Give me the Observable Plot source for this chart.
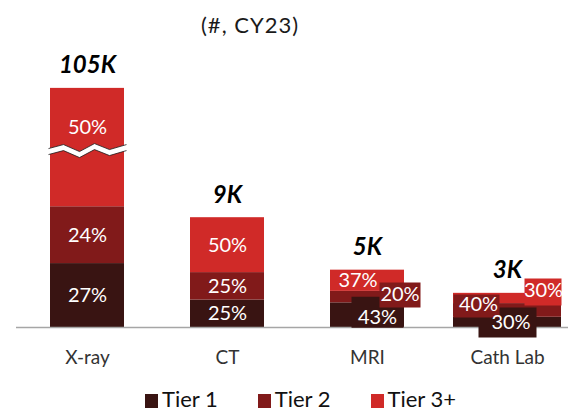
<!DOCTYPE html>
<html>
<head>
<meta charset="utf-8">
<script src="https://cdn.jsdelivr.net/npm/d3@7"></script>
<script src="https://cdn.jsdelivr.net/npm/@observablehq/plot@0.6"></script>
<style>
  html, body { margin: 0; padding: 0; background: #fff; overflow: hidden; }
  body { width: 568px; height: 412px; position: relative; font-family: Lato, "Open Sans", sans-serif; }
  #title { position: absolute; left: 201px; top: 0; padding-top: 8px; line-height: 34px; font-size: 22px; letter-spacing: 1px; color: #1a1a1a; white-space: nowrap; }
  #chart { position: absolute; left: 0; top: 42px; }
  #legend { position: absolute; left: 145px; top: 388px; display: flex; align-items: center; font-size: 22px; line-height: 22px; height: 22px; color: #111; white-space: nowrap; }
  #legend .item { display: flex; align-items: center; margin-right: 40px; }
  #legend .sw { width: 13px; height: 14px; margin-right: 4px; position: relative; top: 2px; }
</style>
</head>
<body>
<div id="title">(#, CY23)</div>
<div id="chart"></div>
<div id="legend"></div>
<script>
// ---- data ----
const categories = ["X-ray", "CT", "MRI", "Cath Lab"];
const tiers = ["Tier 1", "Tier 2", "Tier 3+"];
const totalsK = [105, 9.0, 4.7, 2.8];       // thousands of units
const tier1Pct = [27, 25, 43, 30];
const tier2Pct = [24, 25, 20, 40];
const tier3Pct = [50, 50, 37, 30];
const brokenBarShownAsK = 19.6;              // X-ray bar is cut (axis break)
const tierColors = ["#391412", "#811a1a", "#d02a28"];

// ---- derived tables ----
const segs = [];
categories.forEach((c, i) => {
  const shown = Math.min(totalsK[i], brokenBarShownAsK);
  const pcts = [tier1Pct[i], tier2Pct[i], tier3Pct[i]];
  const sum = d3.sum(pcts);
  let acc = 0;
  pcts.forEach((p, j) => {
    const v = shown * p / sum;
    segs.push({category: c, tier: tiers[j], tierIndex: j, pct: p, y1: acc, y2: acc + v, mid: acc + v / 2});
    acc += v;
  });
});
const totalsData = categories.map((c, i) => ({
  category: c,
  shown: Math.min(totalsK[i], brokenBarShownAsK),
  label: Math.round(totalsK[i]) + "K"
}));
const breakDatum = segs.find(d => d.category === "X-ray" && d.tier === "Tier 3+");

// ---- label layout (pixel nudges, boxes behind crowded labels) ----
const labelLayout = {
  "X-ray|Tier 3+":    {dx: 0, dy: -20},
  "MRI|Tier 3+":      {dx: -9.5, dy: 0},
  "MRI|Tier 2":       {dx: 32.5, dy: -2.5, box: {w: 41, h: 25, dx: 32.5, dy: -2}},
  "MRI|Tier 1":       {dx: 10, dy: 2, box: {w: 52, h: 31, dx: 10, dy: -3}},
  "Cath Lab|Tier 3+": {dx: 36, dy: -8, box: {w: 37, h: 27, dx: 35.5, dy: -6.5}},
  "Cath Lab|Tier 2":  {dx: -29, dy: -6, box: {w: 46, h: 23, dx: -31, dy: -4.5}},
  "Cath Lab|Tier 1":  {dx: 3.5, dy: 0, box: {w: 58, h: 30, dx: 0, dy: 0}}
};
const rectSymbol = (w, h) => ({draw(ctx) { ctx.rect(-w / 2, -h / 2, w, h); }});

// zigzag break symbol
const zx = [-39, -24, -8, 7, 22, 39];
const zy = [1, -3, 4, -4, 2, -3];
const band = 6;
const zigFill = {draw(ctx) {
  ctx.moveTo(zx[0], zy[0]);
  for (let k = 1; k < zx.length; k++) ctx.lineTo(zx[k], zy[k]);
  for (let k = zx.length - 1; k >= 0; k--) ctx.lineTo(zx[k], zy[k] + band);
  ctx.closePath();
}};
const zigEdges = {draw(ctx) {
  ctx.moveTo(zx[0], zy[0]);
  for (let k = 1; k < zx.length; k++) ctx.lineTo(zx[k], zy[k]);
  ctx.moveTo(zx[0], zy[0] + band);
  for (let k = 1; k < zx.length; k++) ctx.lineTo(zx[k], zy[k] + band);
}};

const boxMarks = [];
const labelMarks = [];
segs.forEach(s => {
  const L = labelLayout[s.category + "|" + s.tier] || {dx: 0, dy: 0};
  if (L.box) {
    boxMarks.push(Plot.dot([s], {
      x: "category", y: "mid", dx: L.box.dx, dy: L.box.dy,
      symbol: rectSymbol(L.box.w, L.box.h), r: 1,
      fill: tierColors[s.tierIndex], stroke: "none"
    }));
  }
  labelMarks.push(Plot.text([s], {
    x: "category", y: "mid", dx: L.dx, dy: L.dy,
    text: d => d.pct + "%", fill: "white", fontSize: 20, lineAnchor: "middle"
  }));
});

const chart = Plot.plot({
  width: 568, height: 338,
  marginTop: 41, marginBottom: 53, marginLeft: 16, marginRight: 0,
  x: {type: "band", domain: categories, range: [16, 577], paddingInner: 0.475, paddingOuter: 0.227, axis: null},
  y: {domain: [0, 20], axis: null},
  color: {domain: tiers, range: tierColors},
  style: {fontFamily: "Lato, 'Open Sans', sans-serif", background: "transparent", overflow: "visible"},
  marks: [
    Plot.barY(segs.filter(d => d.category !== "Cath Lab"), {x: "category", y1: "y1", y2: "y2", fill: "tier"}),
    Plot.barY(segs.filter(d => d.category === "Cath Lab"), {x: "category", y1: "y1", y2: "y2", fill: "tier", insetLeft: -17, insetRight: -17}),
    Plot.dot([breakDatum], {x: "category", y: "mid", symbol: zigFill, r: 1, fill: "white", stroke: "none"}),
    Plot.dot([breakDatum], {x: "category", y: "mid", symbol: zigEdges, r: 1, fill: "none", stroke: "#1a1a1a", strokeWidth: 0.8}),
    Plot.ruleY([0], {stroke: "#a6a6a6", strokeWidth: 1.5}),
    ...boxMarks,
    ...labelMarks,
    Plot.text(totalsData, {x: "category", y: "shown", text: "label", dy: -15, lineAnchor: "bottom",
      fontSize: 24, fontWeight: 700, fontStyle: "italic", fill: "#000"}),
    Plot.text(categories, {x: d => d, frameAnchor: "bottom", lineAnchor: "top", dy: 23,
      fontSize: 19, fill: "#333333"})
  ]
});
document.getElementById("chart").appendChild(chart);

// legend
const legend = document.getElementById("legend");
tiers.forEach((t, j) => {
  const item = document.createElement("div");
  item.className = "item";
  const sw = document.createElement("div");
  sw.className = "sw";
  sw.style.background = tierColors[j];
  const lab = document.createElement("span");
  lab.textContent = t;
  item.appendChild(sw);
  item.appendChild(lab);
  legend.appendChild(item);
});
</script>
</body>
</html>
